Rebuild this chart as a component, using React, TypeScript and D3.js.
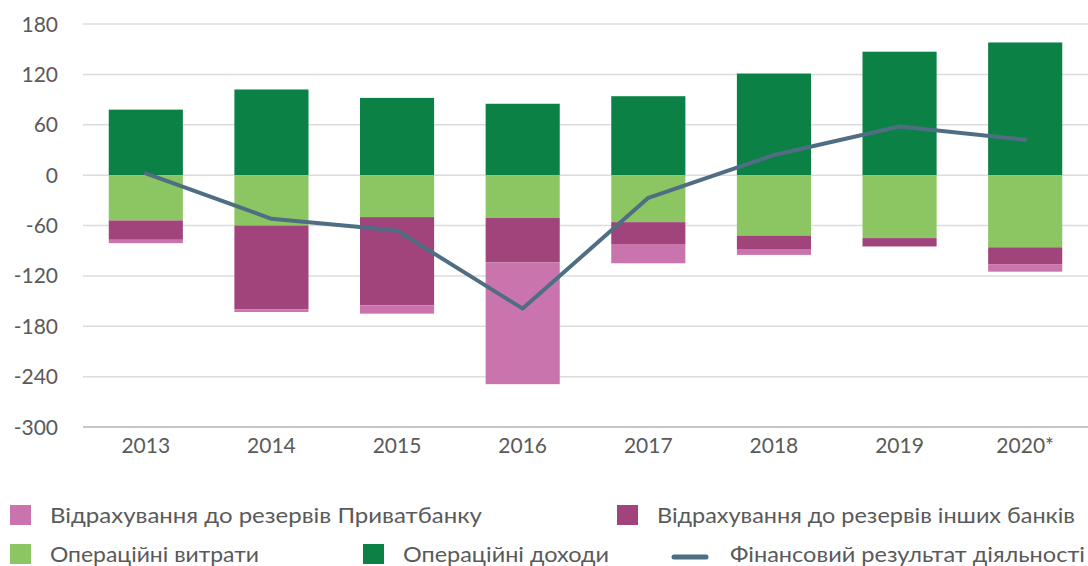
import React from 'react';
import * as d3 from 'd3';

const years = ['2013', '2014', '2015', '2016', '2017', '2018', '2019', '2020*'];
const operatingIncome = [78, 102, 92, 85, 94, 121, 147, 158];
const operatingExpenses = [-54, -60, -50, -51, -56, -72, -75, -86];
const otherBanksProvisions = [-23, -100, -105, -53, -26, -16, -10, -20];
const privatProvisions = [-4, -3, -10, -145, -23, -7, 0, -9];
const financialResult = [2, -52, -66, -159, -27, 24, 58, 42];
const yTicks = [180, 120, 60, 0, -60, -120, -180, -240, -300];

const keys = ['income', 'expenses', 'other', 'privat'];
const colors = {
  income: '#0b8146',
  expenses: '#8cc663',
  other: '#a1447b',
  privat: '#ca74ad',
};
const lineColor = '#4f6e84';
const textColor = '#5a5a5a';
const font = 'Lato, sans-serif';

const W = 1088;
const H = 566;

const App = () => {
  const rows = years.map((year, i) => ({
    year,
    income: operatingIncome[i],
    expenses: operatingExpenses[i],
    other: otherBanksProvisions[i],
    privat: privatProvisions[i],
  }));

  const x = d3.scaleBand().domain(years).range([83, 1088]).paddingInner(0.41).paddingOuter(0.205);
  const y = d3.scaleLinear().domain([-300, 180]).range([427, 24]);

  const series = d3.stack().keys(keys).offset(d3.stackOffsetDiverging)(rows as any);

  const line = d3
    .line<number>()
    .x((_, i) => (x(years[i]) as number) + x.bandwidth() / 2)
    .y(d => y(d));

  // legend entries, widths taken from the reference text runs
  const legend = [
    { label: 'Відрахування до резервів Приватбанку', color: colors.privat, x: 10, y: 505, w: 432 },
    { label: 'Відрахування до резервів інших банків', color: colors.other, x: 617, y: 505, w: 418 },
    { label: 'Операційні витрати', color: colors.expenses, x: 10, y: 544, w: 209 },
    { label: 'Операційні доходи', color: colors.income, x: 363, y: 544, w: 206 },
  ];

  return (
    <svg
      width={W}
      height={H}
      style={{ position: 'absolute', left: 0, top: 0, display: 'block', background: '#fff' }}
    >
      <g>
        {yTicks.map(t => (
          <g key={t}>
            <line
              x1={83}
              x2={1088}
              y1={y(t)}
              y2={y(t)}
              stroke={t === -300 ? '#b3b3b3' : '#dcdcdc'}
              strokeWidth={1.5}
            />
            <text
              x={58}
              y={y(t)}
              dy="0.36em"
              textAnchor="end"
              fontFamily={font}
              fontSize={21}
              fill={textColor}
            >
              {t}
            </text>
          </g>
        ))}
      </g>
      <g>
        {series.map(s => (
          <g key={s.key} fill={colors[s.key]}>
            {s.map((d, i) => (
              <rect
                key={i}
                x={x(years[i])}
                width={x.bandwidth()}
                y={y(Math.max(d[0], d[1]))}
                height={Math.abs(y(d[0]) - y(d[1]))}
              />
            ))}
          </g>
        ))}
      </g>
      <path
        d={line(financialResult) || ''}
        fill="none"
        stroke={lineColor}
        strokeWidth={4}
        strokeLinejoin="round"
        strokeLinecap="round"
      />
      <g>
        {years.map(yr => (
          <text
            key={yr}
            x={(x(yr) as number) + x.bandwidth() / 2}
            y={453}
            textAnchor="middle"
            fontFamily={font}
            fontSize={21}
            fill={textColor}
          >
            {yr}
          </text>
        ))}
      </g>
      <g fontFamily={font} fontSize={22} fill={textColor}>
        {legend.map(l => (
          <g key={l.label}>
            <rect x={l.x} y={l.y} width={21} height={20} fill={l.color} />
            <text x={l.x + 40} y={l.y + 18} textLength={l.w} lengthAdjust="spacingAndGlyphs">
              {l.label}
            </text>
          </g>
        ))}
        <line x1={674} x2={706} y1={557} y2={557} stroke={lineColor} strokeWidth={5} strokeLinecap="round" />
        <text x={730} y={562} textLength={355} lengthAdjust="spacingAndGlyphs">
          Фінансовий результат діяльності
        </text>
      </g>
    </svg>
  );
};

export default App;
